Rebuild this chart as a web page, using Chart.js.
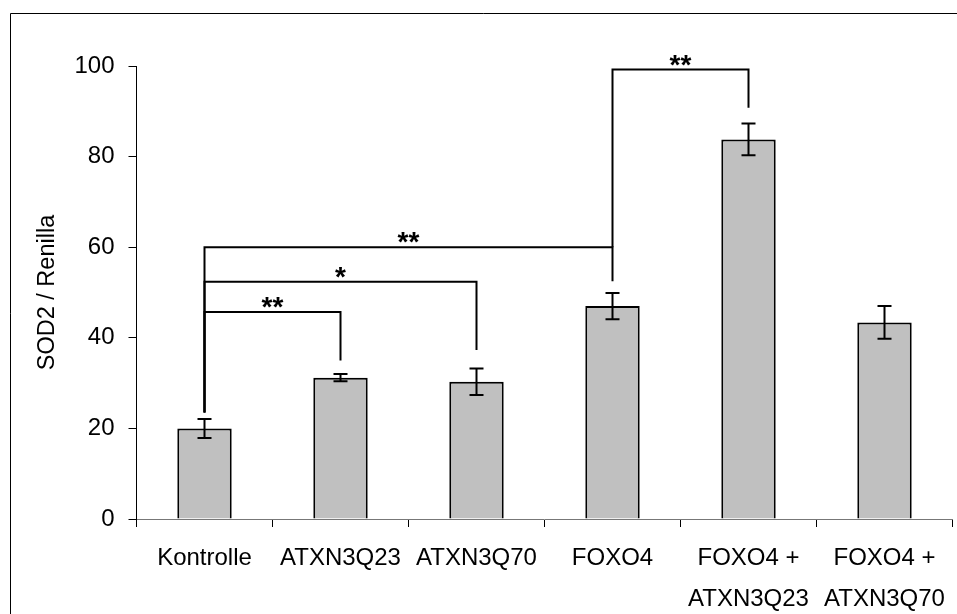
<!DOCTYPE html>
<html>
<head>
<meta charset="utf-8">
<script src="https://cdn.jsdelivr.net/npm/chart.js@4"></script>
<style>
html,body{margin:0;padding:0;background:#fff;}
canvas{display:block;}
</style>
</head>
<body>
<canvas id="c" width="957" height="614"></canvas>
<script>
// ---- data ----
const categories = ['Kontrolle', 'ATXN3Q23', 'ATXN3Q70', 'FOXO4', ['FOXO4 +', 'ATXN3Q23'], ['FOXO4 +', 'ATXN3Q70']];
const values = [20.0, 31.2, 30.3, 47.0, 83.8, 43.4];
const errors = [2.1, 0.8, 2.9, 2.9, 3.5, 3.6];
const yTicks = [0, 20, 40, 60, 80, 100];
const yTitle = 'SOD2 / Renilla';
// significance brackets: [fromIndex, toIndex, bracketValue, leftLegEnd, rightLegEnd, label]
const bracketFrom = [0, 0, 0, 3];
const bracketTo = [1, 2, 3, 4];
const bracketLevel = [45.7, 52.4, 60.0, 99.2];
const bracketLeftEnd = [23.5, 23.5, 23.5, 60.0];
const bracketRightEnd = [35.0, 37.3, 52.5, 90.8];
const bracketLabel = ['**', '*', '**', '**'];

const FONT = '"Liberation Sans", Arial, sans-serif';

const framePlugin = {
  id: 'frame',
  beforeDraw(chart) {
    const ctx = chart.ctx;
    ctx.save();
    ctx.fillStyle = '#fff';
    ctx.fillRect(0, 0, chart.width, chart.height);
    ctx.strokeStyle = '#000';
    ctx.lineWidth = 1;
    ctx.beginPath();
    ctx.moveTo(10.5, chart.height);
    ctx.lineTo(10.5, 13.5);
    ctx.lineTo(chart.width, 13.5);
    ctx.stroke();
    ctx.restore();
  }
};

const errorPlugin = {
  id: 'errorbars',
  afterDatasetsDraw(chart) {
    const ctx = chart.ctx;
    const xs = chart.scales.x, ys = chart.scales.y;
    ctx.save();
    ctx.strokeStyle = '#000';
    ctx.lineWidth = 2;
    values.forEach((v, i) => {
      const x = xs.getPixelForValue(i);
      const yt = ys.getPixelForValue(v + errors[i]);
      const yb = ys.getPixelForValue(v - errors[i]);
      ctx.beginPath();
      ctx.moveTo(x, yt); ctx.lineTo(x, yb);
      ctx.moveTo(x - 7, yt); ctx.lineTo(x + 7, yt);
      ctx.moveTo(x - 7, yb); ctx.lineTo(x + 7, yb);
      ctx.stroke();
    });
    ctx.restore();
  }
};

const bracketPlugin = {
  id: 'brackets',
  afterDraw(chart) {
    const ctx = chart.ctx;
    const xs = chart.scales.x, ys = chart.scales.y;
    ctx.save();
    ctx.strokeStyle = '#000';
    ctx.fillStyle = '#000';
    ctx.lineWidth = 2;
    ctx.font = 'bold 28px ' + FONT;
    ctx.textAlign = 'center';
    ctx.textBaseline = 'alphabetic';
    for (let k = 0; k < bracketFrom.length; k++) {
      const x1 = xs.getPixelForValue(bracketFrom[k]);
      const x2 = xs.getPixelForValue(bracketTo[k]);
      const y = ys.getPixelForValue(bracketLevel[k]);
      const yl = ys.getPixelForValue(bracketLeftEnd[k]);
      const yr = ys.getPixelForValue(bracketRightEnd[k]);
      ctx.beginPath();
      ctx.moveTo(x1, yl);
      ctx.lineTo(x1, y);
      ctx.lineTo(x2, y);
      ctx.lineTo(x2, yr);
      ctx.stroke();
      ctx.fillText(bracketLabel[k], (x1 + x2) / 2, y + 4);
    }
    ctx.restore();
  }
};

new Chart(document.getElementById('c'), {
  type: 'bar',
  data: {
    labels: categories,
    datasets: [{
      data: values,
      backgroundColor: '#C0C0C0',
      borderColor: '#000',
      borderWidth: 2,
      categoryPercentage: 1.0,
      barPercentage: 0.4
    }]
  },
  options: {
    responsive: false,
    animation: false,
    layout: { padding: { top: 66, right: 4.5, bottom: 0, left: 0 } },
    plugins: { legend: { display: false }, tooltip: { enabled: false } },
    scales: {
      x: {
        offset: true,
        grid: { offset: true, drawOnChartArea: false, drawTicks: true, tickLength: 8, color: '#000', lineWidth: 1 },
        border: { display: true, color: '#777', width: 1 },
        ticks: {
          autoSkip: false, maxRotation: 0, minRotation: 0,
          color: '#000', padding: 11,
          font: { family: FONT, size: 24, lineHeight: 1.71 }
        },
        afterFit(scale) { scale.height = 95; }
      },
      y: {
        min: 0, max: 100,
        afterBuildTicks(scale) { scale.ticks = yTicks.map(v => ({ value: v })); },
        grid: { drawOnChartArea: false, drawTicks: true, tickLength: 8, color: '#000', lineWidth: 1 },
        border: { display: true, color: '#000', width: 1 },
        ticks: { color: '#000', padding: 14, font: { family: FONT, size: 24 } },
        title: {
          display: true, text: yTitle, color: '#000',
          font: { family: FONT, size: 23.5, lineHeight: 1.2 },
          padding: { top: 33, bottom: 0 }
        },
        afterFit(scale) { scale.width = 136.5; }
      }
    }
  },
  plugins: [framePlugin, errorPlugin, bracketPlugin]
});
</script>
</body>
</html>
